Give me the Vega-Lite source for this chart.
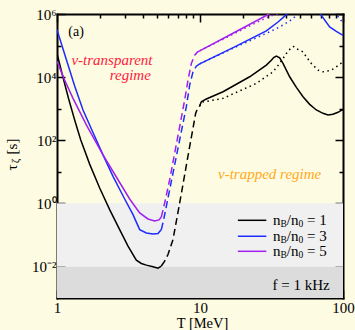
{
  "$schema": "https://vega.github.io/schema/vega-lite/v6.json",
  "width": 286,
  "height": 284,
  "autosize": "none",
  "padding": {"left": 57, "top": 14, "right": 12, "bottom": 32},
  "background": "#fdfbe1",
  "config": {
    "view": {"stroke": null, "fill": "#fdfbe1"},
    "font": "Liberation Serif",
    "axis": {
      "domainColor": "black", "domainWidth": 2, "domainCap": "square",
      "tickColor": "black", "tickWidth": 1.5,
      "labelFont": "Liberation Serif", "labelFontSize": 15, "labelColor": "black",
      "titleFont": "Liberation Serif", "titleFontSize": 15, "titleFontWeight": "normal", "titleColor": "black",
      "grid": false, "zindex": 1, "labelOverlap": false, "labelFlush": false, "labelBound": false
    }
  },
  "datasets": {
    "bands": [
      {"band": "below 10 ms", "lo": 0.001, "hi": 0.01},
      {"band": "10 ms to 1 s", "lo": 0.01, "hi": 1}
    ],
    "legend": [
      {"n": 1, "tau": 0.29, "eq": "= 1"},
      {"n": 3, "tau": 0.0904, "eq": "= 3"},
      {"n": 5, "tau": 0.0302, "eq": "= 5"}
    ],
    "notes": [
      {"note": "(a)", "T": 1.2, "tau": 263000},
      {"note": "ν-transparent", "T": 1.261, "tau": 34100},
      {"note": "regime", "T": 2.336, "tau": 11430},
      {"note": "ν-trapped regime", "T": 13.37, "tau": 8.77},
      {"note": "f = 1 kHz", "T": 80.7, "tau": 0.00254}
    ],
    "curves": [
      {"n":1,"part":"transparent","T":1,"tau":55800},
      {"n":1,"part":"transparent","T":1.102,"tau":9750},
      {"n":1,"part":"transparent","T":1.207,"tau":2020},
      {"n":1,"part":"transparent","T":1.329,"tau":439},
      {"n":1,"part":"transparent","T":1.464,"tau":103},
      {"n":1,"part":"transparent","T":1.692,"tau":17.5},
      {"n":1,"part":"transparent","T":1.988,"tau":3.05},
      {"n":1,"part":"transparent","T":2.335,"tau":0.631},
      {"n":1,"part":"transparent","T":2.743,"tau":0.147},
      {"n":1,"part":"transparent","T":3.137,"tau":0.0439},
      {"n":1,"part":"transparent","T":3.587,"tau":0.0158},
      {"n":1,"part":"transparent","T":3.889,"tau":0.0124},
      {"n":1,"part":"transparent","T":4.214,"tau":0.011},
      {"n":1,"part":"transparent","T":4.692,"tau":0.00975},
      {"n":1,"part":"transparent","T":5.087,"tau":0.00885},
      {"n":1,"part":"transparent","T":5.366,"tau":0.0103},
      {"n":1,"part":"transition","T":5.366,"tau":0.0103},
      {"n":1,"part":"transition","T":5.661,"tau":0.0147},
      {"n":1,"part":"transition","T":5.973,"tau":0.0239},
      {"n":1,"part":"transition","T":6.474,"tau":0.0713},
      {"n":1,"part":"transition","T":7.209,"tau":1.026},
      {"n":1,"part":"transition","T":7.812,"tau":8.04},
      {"n":1,"part":"transition","T":8.467,"tau":63.1},
      {"n":1,"part":"transition","T":8.933,"tau":239},
      {"n":1,"part":"transition","T":9.326,"tau":713},
      {"n":1,"part":"transition","T":9.632,"tau":1026},
      {"n":1,"part":"transition","T":9.947,"tau":1213},
      {"n":1,"part":"trapped","T":9.947,"tau":1213},
      {"n":1,"part":"trapped","T":10.22,"tau":1663},
      {"n":1,"part":"trapped","T":11.07,"tau":2018},
      {"n":1,"part":"trapped","T":14.49,"tau":3443},
      {"n":1,"part":"trapped","T":22.25,"tau":10260},
      {"n":1,"part":"trapped","T":29.1,"tau":23930},
      {"n":1,"part":"trapped","T":31.54,"tau":34440},
      {"n":1,"part":"trapped","T":32.74,"tau":41690},
      {"n":1,"part":"trapped","T":34.19,"tau":46030},
      {"n":1,"part":"trapped","T":36.07,"tau":40740},
      {"n":1,"part":"trapped","T":38.06,"tau":27040},
      {"n":1,"part":"trapped","T":42.36,"tau":10260},
      {"n":1,"part":"trapped","T":47.2,"tau":4721},
      {"n":1,"part":"trapped","T":52.53,"tau":2393},
      {"n":1,"part":"trapped","T":58.48,"tau":1371},
      {"n":1,"part":"trapped","T":65.1,"tau":908},
      {"n":1,"part":"trapped","T":72.47,"tau":713},
      {"n":1,"part":"trapped","T":78.55,"tau":631},
      {"n":1,"part":"trapped","T":85.1,"tau":662},
      {"n":1,"part":"trapped","T":92.3,"tau":766},
      {"n":1,"part":"trapped","T":100,"tau":953},
      {"n":1,"part":"trapped-alt","T":9.947,"tau":1213},
      {"n":1,"part":"trapped-alt","T":10.3,"tau":1600},
      {"n":1,"part":"trapped-alt","T":14.49,"tau":2118},
      {"n":1,"part":"trapped-alt","T":24.77,"tau":6310},
      {"n":1,"part":"trapped-alt","T":32.39,"tau":14720},
      {"n":1,"part":"trapped-alt","T":36.07,"tau":27040},
      {"n":1,"part":"trapped-alt","T":40.15,"tau":55850},
      {"n":1,"part":"trapped-alt","T":43.52,"tau":86500},
      {"n":1,"part":"trapped-alt","T":45.2,"tau":93300},
      {"n":1,"part":"trapped-alt","T":47.2,"tau":79400},
      {"n":1,"part":"trapped-alt","T":52.53,"tau":63100},
      {"n":1,"part":"trapped-alt","T":55.41,"tau":43850},
      {"n":1,"part":"trapped-alt","T":60.05,"tau":27040},
      {"n":1,"part":"trapped-alt","T":66.88,"tau":16630},
      {"n":1,"part":"trapped-alt","T":72.47,"tau":14720},
      {"n":1,"part":"trapped-alt","T":82.85,"tau":16630},
      {"n":1,"part":"trapped-alt","T":89.8,"tau":21180},
      {"n":1,"part":"trapped-alt","T":100,"tau":30480},
      {"n":3,"part":"transparent","T":1,"tau":320000},
      {"n":3,"part":"transparent","T":1.162,"tau":36140},
      {"n":3,"part":"transparent","T":1.329,"tau":5200},
      {"n":3,"part":"transparent","T":1.52,"tau":908},
      {"n":3,"part":"transparent","T":1.785,"tau":175},
      {"n":3,"part":"transparent","T":2.097,"tau":34.4},
      {"n":3,"part":"transparent","T":2.464,"tau":7.13},
      {"n":3,"part":"transparent","T":2.973,"tau":1.371},
      {"n":3,"part":"transparent","T":3.401,"tau":0.4385},
      {"n":3,"part":"transparent","T":3.786,"tau":0.1472},
      {"n":3,"part":"transparent","T":4.214,"tau":0.1156},
      {"n":3,"part":"transparent","T":4.692,"tau":0.1076},
      {"n":3,"part":"transparent","T":5.087,"tau":0.1102},
      {"n":3,"part":"transparent","T":5.366,"tau":0.1472},
      {"n":3,"part":"transition","T":5.366,"tau":0.1472},
      {"n":3,"part":"transition","T":5.571,"tau":0.305},
      {"n":3,"part":"transition","T":5.815,"tau":0.804},
      {"n":3,"part":"transition","T":6.303,"tau":4.96},
      {"n":3,"part":"transition","T":6.831,"tau":30.5},
      {"n":3,"part":"transition","T":7.404,"tau":188},
      {"n":3,"part":"transition","T":8.025,"tau":1156},
      {"n":3,"part":"transition","T":8.467,"tau":5585},
      {"n":3,"part":"transition","T":8.933,"tau":14720},
      {"n":3,"part":"transition","T":9.427,"tau":22230},
      {"n":3,"part":"transition","T":9.947,"tau":26360},
      {"n":3,"part":"trapped","T":9.947,"tau":26360},
      {"n":3,"part":"trapped","T":17.48,"tau":90780},
      {"n":3,"part":"trapped","T":29.1,"tau":290400},
      {"n":3,"part":"trapped","T":35.12,"tau":558500},
      {"n":3,"part":"trapped","T":38.06,"tau":765600},
      {"n":3,"part":"trapped","T":40.59,"tau":1000000},
      {"n":3,"part":"trapped","T":44.7,"tau":1778000},
      {"n":3,"part":"trapped","T":52,"tau":5000000},
      {"n":3,"part":"trapped","T":60,"tau":4000000},
      {"n":3,"part":"trapped","T":66.88,"tau":1585000},
      {"n":3,"part":"trapped","T":70.57,"tau":907800},
      {"n":3,"part":"trapped","T":80.69,"tau":388200},
      {"n":3,"part":"trapped","T":89.8,"tau":281800},
      {"n":3,"part":"trapped","T":100,"tau":211800},
      {"n":3,"part":"trapped-alt","T":9.947,"tau":26360},
      {"n":3,"part":"trapped-alt","T":17.48,"tau":86500},
      {"n":3,"part":"trapped-alt","T":29.89,"tau":257600},
      {"n":3,"part":"trapped-alt","T":36.07,"tau":388200},
      {"n":3,"part":"trapped-alt","T":41.25,"tau":558500},
      {"n":3,"part":"trapped-alt","T":44.71,"tau":712900},
      {"n":3,"part":"trapped-alt","T":47.95,"tau":1000000},
      {"n":3,"part":"trapped-alt","T":51.13,"tau":1479000},
      {"n":3,"part":"trapped-alt","T":60,"tau":5000000},
      {"n":3,"part":"trapped-alt","T":75,"tau":4000000},
      {"n":3,"part":"trapped-alt","T":85.1,"tau":1318000},
      {"n":3,"part":"trapped-alt","T":90.8,"tau":907800},
      {"n":3,"part":"trapped-alt","T":94.8,"tau":712900},
      {"n":3,"part":"trapped-alt","T":100,"tau":520000},
      {"n":5,"part":"transparent","T":1,"tau":32000},
      {"n":5,"part":"transparent","T":1.131,"tau":8035},
      {"n":5,"part":"transparent","T":1.294,"tau":2118},
      {"n":5,"part":"transparent","T":1.604,"tau":305},
      {"n":5,"part":"transparent","T":2.097,"tau":34.4},
      {"n":5,"part":"transparent","T":2.671,"tau":5.585},
      {"n":5,"part":"transparent","T":3.222,"tau":1.371},
      {"n":5,"part":"transparent","T":3.786,"tau":0.4955},
      {"n":5,"part":"transparent","T":4.328,"tau":0.32},
      {"n":5,"part":"transparent","T":4.819,"tau":0.2767},
      {"n":5,"part":"transparent","T":5.169,"tau":0.2979},
      {"n":5,"part":"transparent","T":5.366,"tau":0.37},
      {"n":5,"part":"transition","T":5.366,"tau":0.37},
      {"n":5,"part":"transition","T":5.661,"tau":1.026},
      {"n":5,"part":"transition","T":6.136,"tau":5.585},
      {"n":5,"part":"transition","T":6.65,"tau":38.8},
      {"n":5,"part":"transition","T":7.209,"tau":270},
      {"n":5,"part":"transition","T":7.812,"tau":1879},
      {"n":5,"part":"transition","T":8.244,"tau":8035},
      {"n":5,"part":"transition","T":8.697,"tau":27040},
      {"n":5,"part":"transition","T":9.178,"tau":49550},
      {"n":5,"part":"transition","T":9.581,"tau":61520},
      {"n":5,"part":"transition","T":9.947,"tau":67920},
      {"n":5,"part":"trapped","T":9.947,"tau":67920},
      {"n":5,"part":"trapped","T":17.01,"tau":245500},
      {"n":5,"part":"trapped","T":30.38,"tau":1000000},
      {"n":5,"part":"trapped","T":36.07,"tau":1514000},
      {"n":5,"part":"trapped-alt","T":9.947,"tau":67920},
      {"n":5,"part":"trapped-alt","T":17.01,"tau":228000},
      {"n":5,"part":"trapped-alt","T":26.14,"tau":601200},
      {"n":5,"part":"trapped-alt","T":30.7,"tau":843300},
      {"n":5,"part":"trapped-alt","T":35.12,"tau":1023000},
      {"n":5,"part":"trapped-alt","T":39.1,"tau":1380000}
    ]
  },
  "layer": [
    {
      "data": {"name": "bands"},
      "transform": [{"filter": "datum.band == 'below 10 ms'"}],
      "mark": {"type": "rect", "color": "#dcdcdc"},
      "encoding": {
        "x": {"datum": 1, "type": "quantitative", "scale": {"type": "log", "domain": [1, 100]}, "axis": null},
        "x2": {"datum": 100},
        "y": {"field": "lo", "type": "quantitative", "scale": {"type": "log", "domain": [0.001, 1000000]}, "axis": null},
        "y2": {"field": "hi"}
      }
    },
    {
      "data": {"name": "bands"},
      "transform": [{"filter": "datum.band == '10 ms to 1 s'"}],
      "mark": {"type": "rect", "color": "#f0f0f0"},
      "encoding": {
        "x": {"datum": 1, "type": "quantitative", "scale": {"type": "log", "domain": [1, 100]}, "axis": null},
        "x2": {"datum": 100},
        "y": {"field": "lo", "type": "quantitative", "scale": {"type": "log", "domain": [0.001, 1000000]}, "axis": null},
        "y2": {"field": "hi"}
      }
    },
    {
      "data": {"name": "curves"},
      "transform": [{"filter": "datum.part == 'transparent' || datum.part == 'trapped'"}],
      "mark": {"type": "line", "strokeWidth": 1.5, "clip": true},
      "encoding": {
        "x": {"field": "T", "type": "quantitative", "scale": {"type": "log", "domain": [1, 100]},
          "axis": {"orient": "bottom", "values": [1,2,3,4,5,6,7,8,9,10,20,30,40,50,60,70,80,90,100],
            "labelExpr": "datum.value == 1 || datum.value == 10 || datum.value == 100 ? format(datum.value, 'd') : ''",
            "tickSize": {"condition": {"test": "datum.value == 1 || datum.value == 10 || datum.value == 100", "value": -8}, "value": -4},
            "labelPadding": 10,
            "title": "T [MeV]", "titleFontSize": 14.5, "titleX": 145, "titleY": 25, "titleAlign": "center", "titleBaseline": "middle", "titleAngle": 0}},
        "y": {"field": "tau", "type": "quantitative", "scale": {"type": "log", "domain": [0.001, 1000000]},
          "axis": {"orient": "left", "values": [0.01,0.1,1,10,100,1000,10000,100000,1000000],
            "labelExpr": "datum.value == 0.01 ? '10⁻²' : datum.value == 1 ? '10⁰' : datum.value == 100 ? '10²' : datum.value == 10000 ? '10⁴' : datum.value == 1000000 ? '10⁶' : ''",
            "tickSize": {"condition": {"test": "datum.value == 0.01 || datum.value == 1 || datum.value == 100 || datum.value == 10000 || datum.value == 1000000", "value": -8}, "value": -4},
            "labelPadding": 9, "labelAlign": "right", "labelBaseline": "middle",
            "title": "τ", "titleX": -46, "titleY": 153, "titleAngle": -90, "titleAlign": "center", "titleBaseline": "middle"}},
        "color": {"field": "n", "type": "nominal", "scale": {"domain": [1, 3, 5], "range": ["#000000", "#1e2bff", "#a020f0"]}, "legend": null},
        "detail": {"field": "part"}
      }
    },
    {
      "data": {"name": "curves"},
      "transform": [{"filter": "datum.part == 'transition'"}],
      "mark": {"type": "line", "strokeWidth": 1.5, "strokeDash": [7, 4], "clip": true},
      "encoding": {
        "x": {"field": "T", "type": "quantitative", "scale": {"type": "log", "domain": [1, 100]},
          "axis": {"orient": "top", "values": [1,2,3,4,5,6,7,8,9,10,20,30,40,50,60,70,80,90,100],
            "labels": false,
            "tickSize": {"condition": {"test": "datum.value == 1 || datum.value == 10 || datum.value == 100", "value": -8}, "value": -4},
            "title": "[s]", "titleX": -46, "titleY": 132, "titleAngle": -90, "titleAlign": "center", "titleBaseline": "middle"}},
        "y": {"field": "tau", "type": "quantitative", "scale": {"type": "log", "domain": [0.001, 1000000]},
          "axis": {"orient": "right", "values": [0.01,0.1,1,10,100,1000,10000,100000,1000000],
            "labels": false,
            "tickSize": {"condition": {"test": "datum.value == 0.01 || datum.value == 1 || datum.value == 100 || datum.value == 10000 || datum.value == 1000000", "value": -8}, "value": -4},
            "title": "ζ", "titleFontSize": 11, "titleX": -327.5, "titleY": 146.5, "titleAngle": -90, "titleAlign": "center", "titleBaseline": "middle"}},
        "color": {"field": "n", "type": "nominal", "scale": {"domain": [1, 3, 5], "range": ["#000000", "#1e2bff", "#a020f0"]}, "legend": null},
        "detail": {"field": "part"}
      }
    },
    {
      "data": {"name": "curves"},
      "transform": [{"filter": "datum.part == 'trapped-alt'"}],
      "mark": {"type": "line", "strokeWidth": 1.5, "strokeDash": [1.5, 3.5], "clip": true},
      "encoding": {
        "x": {"field": "T", "type": "quantitative", "scale": {"type": "log", "domain": [1, 100]}, "axis": null},
        "y": {"field": "tau", "type": "quantitative", "scale": {"type": "log", "domain": [0.001, 1000000]}, "axis": null},
        "color": {"field": "n", "type": "nominal", "scale": {"domain": [1, 3, 5], "range": ["#000000", "#1e2bff", "#a020f0"]}, "legend": null},
        "detail": {"field": "part"}
      }
    },
    {
      "data": {"name": "legend"},
      "mark": {"type": "rule", "strokeWidth": 1.5},
      "encoding": {
        "x": {"datum": 18.4, "type": "quantitative", "scale": {"type": "log", "domain": [1, 100]}, "axis": null},
        "x2": {"datum": 29.1},
        "y": {"field": "tau", "type": "quantitative", "scale": {"type": "log", "domain": [0.001, 1000000]}, "axis": null},
        "color": {"field": "n", "type": "nominal", "scale": {"domain": [1, 3, 5], "range": ["#000000", "#1e2bff", "#a020f0"]}, "legend": null}
      }
    },
    {
      "data": {"name": "legend"},
      "mark": {"type": "text", "text": "n", "align": "left", "baseline": "middle", "fontSize": 15, "font": "Liberation Serif", "color": "black"},
      "encoding": {
        "x": {"datum": 32.4, "type": "quantitative", "scale": {"type": "log", "domain": [1, 100]}, "axis": null},
        "y": {"field": "tau", "type": "quantitative", "scale": {"type": "log", "domain": [0.001, 1000000]}, "axis": null}
      }
    },
    {
      "data": {"name": "legend"},
      "mark": {"type": "text", "text": "B", "align": "left", "baseline": "middle", "fontSize": 9.5, "dx": 7.5, "dy": 4, "font": "Liberation Serif", "color": "black"},
      "encoding": {
        "x": {"datum": 32.4, "type": "quantitative", "scale": {"type": "log", "domain": [1, 100]}, "axis": null},
        "y": {"field": "tau", "type": "quantitative", "scale": {"type": "log", "domain": [0.001, 1000000]}, "axis": null}
      }
    },
    {
      "data": {"name": "legend"},
      "mark": {"type": "text", "text": "/n", "align": "left", "baseline": "middle", "fontSize": 15, "dx": 13.8, "font": "Liberation Serif", "color": "black"},
      "encoding": {
        "x": {"datum": 32.4, "type": "quantitative", "scale": {"type": "log", "domain": [1, 100]}, "axis": null},
        "y": {"field": "tau", "type": "quantitative", "scale": {"type": "log", "domain": [0.001, 1000000]}, "axis": null}
      }
    },
    {
      "data": {"name": "legend"},
      "mark": {"type": "text", "text": "0", "align": "left", "baseline": "middle", "fontSize": 9.5, "dx": 25.5, "dy": 4, "font": "Liberation Serif", "color": "black"},
      "encoding": {
        "x": {"datum": 32.4, "type": "quantitative", "scale": {"type": "log", "domain": [1, 100]}, "axis": null},
        "y": {"field": "tau", "type": "quantitative", "scale": {"type": "log", "domain": [0.001, 1000000]}, "axis": null}
      }
    },
    {
      "data": {"name": "legend"},
      "mark": {"type": "text", "align": "left", "baseline": "middle", "fontSize": 15, "dx": 34, "font": "Liberation Serif", "color": "black"},
      "encoding": {
        "x": {"datum": 32.4, "type": "quantitative", "scale": {"type": "log", "domain": [1, 100]}, "axis": null},
        "y": {"field": "tau", "type": "quantitative", "scale": {"type": "log", "domain": [0.001, 1000000]}, "axis": null},
        "text": {"field": "eq"}
      }
    },
    {
      "data": {"name": "notes"},
      "transform": [{"filter": "datum.note == '(a)'"}],
      "mark": {"type": "text", "align": "left", "baseline": "middle", "fontSize": 14, "font": "Liberation Serif", "color": "black"},
      "encoding": {
        "x": {"field": "T", "type": "quantitative", "scale": {"type": "log", "domain": [1, 100]}, "axis": null},
        "y": {"field": "tau", "type": "quantitative", "scale": {"type": "log", "domain": [0.001, 1000000]}, "axis": null},
        "text": {"field": "note"}
      }
    },
    {
      "data": {"name": "notes"},
      "transform": [{"filter": "datum.note == 'ν-transparent' || datum.note == 'regime'"}],
      "mark": {"type": "text", "align": "left", "baseline": "middle", "fontSize": 15, "fontStyle": "italic", "font": "Liberation Serif", "color": "#ff2040"},
      "encoding": {
        "x": {"field": "T", "type": "quantitative", "scale": {"type": "log", "domain": [1, 100]}, "axis": null},
        "y": {"field": "tau", "type": "quantitative", "scale": {"type": "log", "domain": [0.001, 1000000]}, "axis": null},
        "text": {"field": "note"}
      }
    },
    {
      "data": {"name": "notes"},
      "transform": [{"filter": "datum.note == 'ν-trapped regime'"}],
      "mark": {"type": "text", "align": "left", "baseline": "middle", "fontSize": 15, "fontStyle": "italic", "font": "Liberation Serif", "color": "#ffaa20"},
      "encoding": {
        "x": {"field": "T", "type": "quantitative", "scale": {"type": "log", "domain": [1, 100]}, "axis": null},
        "y": {"field": "tau", "type": "quantitative", "scale": {"type": "log", "domain": [0.001, 1000000]}, "axis": null},
        "text": {"field": "note"}
      }
    },
    {
      "data": {"name": "notes"},
      "transform": [{"filter": "datum.note == 'f = 1 kHz'"}],
      "mark": {"type": "text", "align": "right", "baseline": "middle", "fontSize": 15, "font": "Liberation Serif", "color": "black"},
      "encoding": {
        "x": {"field": "T", "type": "quantitative", "scale": {"type": "log", "domain": [1, 100]}, "axis": null},
        "y": {"field": "tau", "type": "quantitative", "scale": {"type": "log", "domain": [0.001, 1000000]}, "axis": null},
        "text": {"field": "note"}
      }
    }
  ],
  "resolve": {"axis": {"x": "independent", "y": "independent"}}
}
